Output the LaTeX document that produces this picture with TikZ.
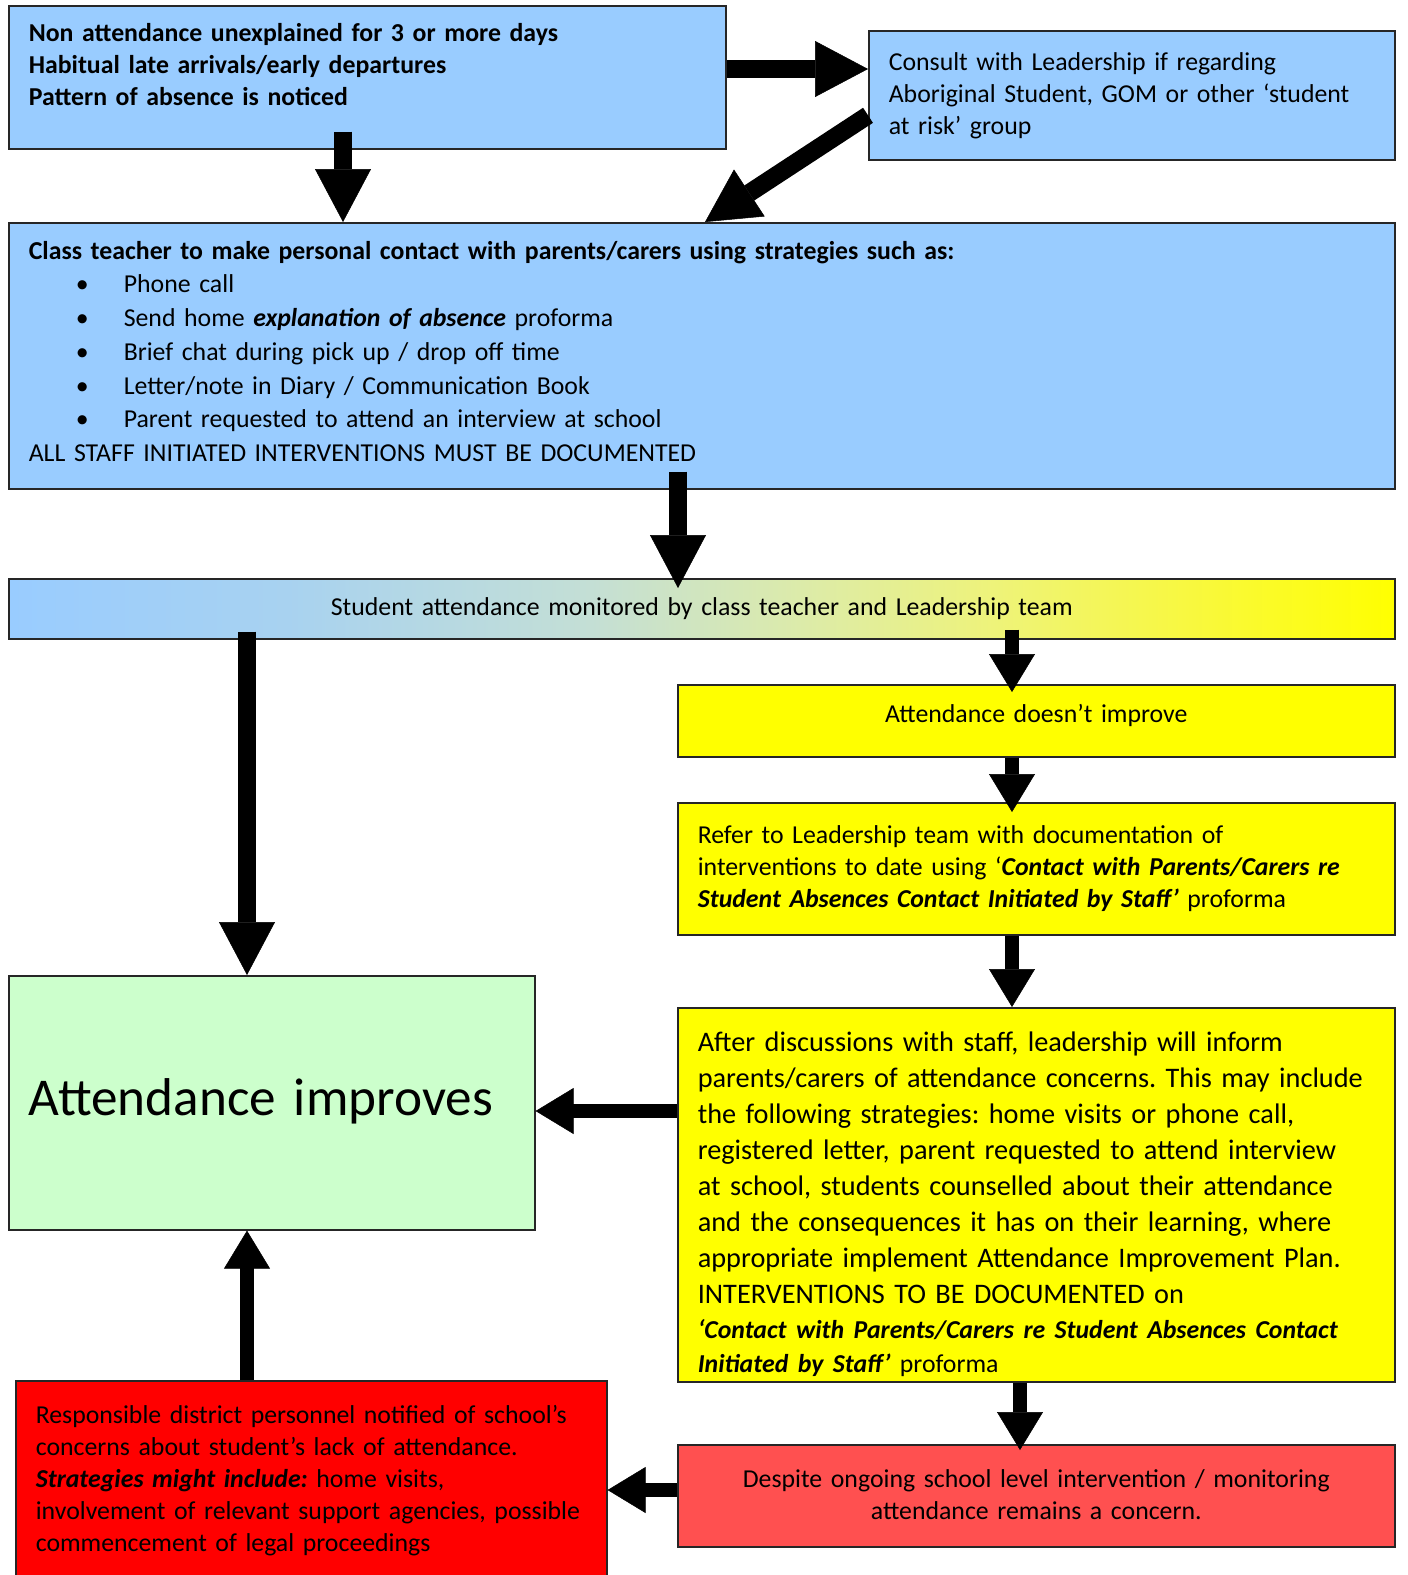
\documentclass[tikz,border=0pt]{standalone}
\usepackage{fontspec}
\setmainfont{Carlito}
\usetikzlibrary{arrows.meta}
\frenchspacing

\definecolor{boxblue}{HTML}{99CCFF}
\definecolor{improvegreen}{HTML}{CCFFCC}
\definecolor{alertyellow}{HTML}{FFFF00}
\definecolor{despitered}{HTML}{FF5050}
\definecolor{districtred}{HTML}{FF0000}
\definecolor{shadeA}{HTML}{A8D2F0}
\definecolor{shadeB}{HTML}{C4DFD5}
\definecolor{shadeC}{HTML}{DCEBAA}
\definecolor{shadeD}{HTML}{EEF37A}
\definecolor{shadeE}{HTML}{F8F840}

\pgfdeclarehorizontalshading{monitorshade}{100bp}{color(0bp)=(boxblue); color(25bp)=(boxblue);
    color(35bp)=(shadeA); color(46bp)=(shadeB); color(53.5bp)=(shadeC);
    color(60.5bp)=(shadeD); color(67.5bp)=(shadeE); color(75bp)=(alertyellow); color(100bp)=(alertyellow)}

\newcommand{\boxfont}{\fontsize{25.8}{32}\selectfont}

\begin{document}
\begin{tikzpicture}[x=1pt, y=-1pt,
    box/.style={draw=black!85, line width=1.6pt, anchor=north west, inner xsep=20pt,
        inner ysep=0pt, align=left, font=\boxfont},
    bigarrow/.style={line width=18pt, -{Triangle[length=53pt, width=56pt, line width=0.5pt]}},
    smallarrow/.style={line width=14pt, -{Triangle[length=38pt, width=46pt, line width=0.5pt]}}
]
\useasboundingbox (0,0) rectangle (1408,1575);

% boxes
\node[box, fill=boxblue, text width=677pt, minimum height=143pt, font=\boxfont\bfseries] (trigger) at (8,5)
    {Non attendance unexplained for 3 or more days\\
     Habitual late arrivals/early departures\\
     Pattern of absence is noticed\rule[-26pt]{0pt}{0pt}};
\node[box, fill=boxblue, text width=486pt, minimum height=129pt] (consult) at (868,30)
    {Consult with Leadership if regarding\\
     Aboriginal Student, GOM or other ‘student\\
     at risk’ group};
\node[box, fill=boxblue, text width=1346pt, minimum height=266pt, font=\fontsize{25.8}{33.7}\selectfont] (contact) at (8,222)
    {\textbf{Class teacher to make personal contact with parents/carers using strategies such as:}\\
     \hspace*{47pt}\makebox[48pt][l]{\textbullet}Phone call\\
     \hspace*{47pt}\makebox[48pt][l]{\textbullet}Send home \textbf{\textit{explanation of absence}} proforma\\
     \hspace*{47pt}\makebox[48pt][l]{\textbullet}Brief chat during pick up / drop off time\\
     \hspace*{47pt}\makebox[48pt][l]{\textbullet}Letter/note in Diary / Communication Book\\
     \hspace*{47pt}\makebox[48pt][l]{\textbullet}Parent requested to attend an interview at school\\
     ALL STAFF INITIATED INTERVENTIONS MUST BE DOCUMENTED\rule[-9pt]{0pt}{0pt}};
\node[box, shade, shading=monitorshade, text width=1346pt, minimum height=60pt, align=center] (monitor) at (8,578)
    {Student attendance monitored by class teacher and Leadership team};
\node[box, fill=alertyellow, text width=677pt, minimum height=72pt, align=center] (noimprove) at (677,684)
    {Attendance doesn’t improve\rule[-14pt]{0pt}{0pt}};
\node[box, fill=alertyellow, text width=677pt, minimum height=132pt] (refer) at (677,802)
    {Refer to Leadership team with documentation of\\
     interventions to date using ‘\textbf{\textit{Contact with Parents/Carers re}}\\
     \textbf{\textit{Student Absences Contact Initiated by Staff’}} proforma};
\node[box, fill=alertyellow, text width=677pt, minimum height=374pt, font=\fontsize{28.3}{36}\selectfont] (inform) at (677,1007)
    {\rule{0pt}{38pt}After discussions with staff, leadership will inform\\
     parents/carers of attendance concerns. This may include\\
     the following strategies: home visits or phone call,\\
     registered letter, parent requested to attend interview\\
     at school, students counselled about their attendance\\
     and the consequences it has on their learning, where\\
     appropriate implement Attendance Improvement Plan.\\
     INTERVENTIONS TO BE DOCUMENTED on\\[-1pt]
     {\boxfont\textbf{\textit{‘Contact with Parents/Carers re Student Absences Contact}}}\\[-2pt]
     {\boxfont\textbf{\textit{Initiated by Staff’}} proforma}};
\node[box, fill=improvegreen, text width=486pt, minimum height=254pt, font=\fontsize{53.2}{60}\selectfont] (improves) at (8,975)
    {Attendance improves\rule[-12pt]{0pt}{0pt}};
\node[box, fill=districtred, text width=551pt, minimum height=200pt] (district) at (15,1380)
    {Responsible district personnel notified of school’s\\
     concerns about student’s lack of attendance.\\
     \textbf{\textit{Strategies might include:}} home visits,\\
     involvement of relevant support agencies, possible\\
     commencement of legal proceedings};
\node[box, fill=despitered, text width=677pt, minimum height=102pt, align=center] (despite) at (677,1444)
    {Despite ongoing school level intervention / monitoring\\
     attendance remains a concern.\rule[-2pt]{0pt}{0pt}};

% arrow columns and rows
\coordinate (colA) at (343,0);
\coordinate (colB) at (678,0);
\coordinate (colC) at (247,0);
\coordinate (colD) at (1012,0);
\coordinate (colE) at (1020,0);
\coordinate (colF) at (705,0);
\coordinate (rowA) at (0,69);
\coordinate (rowB) at (0,1111);
\coordinate (rowC) at (0,1490);

% connectors
\draw[bigarrow] ([yshift=18pt]trigger.south -| colA) -- (contact.north -| colA);
\draw[bigarrow] (trigger.east |- rowA) -- (consult.west |- rowA);
\draw[bigarrow] ([yshift=-20pt]consult.west) -- (contact.north -| colF);
\draw[bigarrow] ([yshift=18pt]contact.south -| colB) -- ([yshift=-10pt]monitor.north -| colB);
\draw[bigarrow] ([yshift=8pt]monitor.south -| colC) -- (improves.north -| colC);
\draw[smallarrow] ([yshift=10pt]monitor.south -| colD) -- ([yshift=-8pt]noimprove.north -| colD);
\draw[smallarrow] (noimprove.south -| colD) -- ([yshift=-10pt]refer.north -| colD);
\draw[smallarrow] (refer.south -| colD) -- (inform.north -| colD);
\draw[smallarrow] (inform.west |- rowB) -- (improves.east |- rowB);
\draw[smallarrow] (inform.south -| colE) -- ([yshift=-6pt]despite.north -| colE);
\draw[smallarrow] (despite.west |- rowC) -- (district.east |- rowC);
\draw[smallarrow] (district.north -| colC) -- (improves.south -| colC);
\end{tikzpicture}
\end{document}
